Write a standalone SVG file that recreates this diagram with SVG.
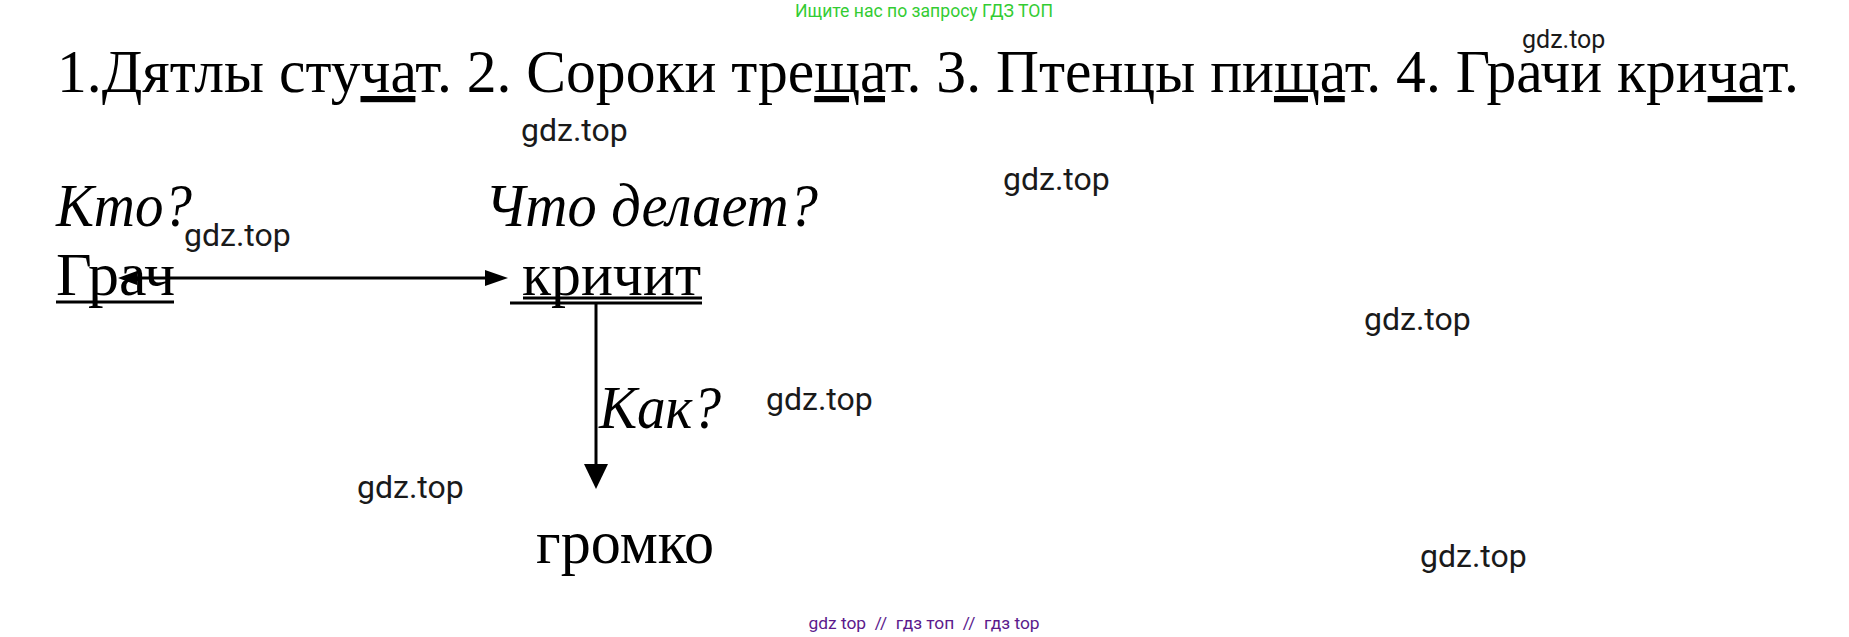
<svg xmlns="http://www.w3.org/2000/svg" width="1849" height="637" viewBox="0 0 1849 637">
<style>
.serif{font-family:"Liberation Serif","Times New Roman",serif;fill:#000}
.main{font-size:62px}
.it{font-style:italic}
.wm{font-family:Roboto,"Liberation Sans",sans-serif;fill:#1a1a1a;font-size:32px}
.wm-s{font-size:25px}
.u{text-decoration:underline}
.ln{stroke:#000;stroke-width:3;fill:none}
</style>
<rect width="1849" height="637" fill="#fff"/>
<text x="924" y="17" text-anchor="middle" font-family="Roboto,'Liberation Sans',sans-serif" font-size="17.6" fill="#33cc33">Ищите нас по запросу ГДЗ ТОП</text>
<g id="sentence">
<text x="57" y="92" class="serif main" textLength="1742" lengthAdjust="spacingAndGlyphs">1.Дятлы сту<tspan class="u">ча</tspan>т. 2. Сороки тре<tspan class="u">ща</tspan>т. 3. Птенцы пи<tspan class="u">ща</tspan>т. 4. Грачи кри<tspan class="u">ча</tspan>т.</text>
</g>
<g id="q-kto"><text x="56" y="226" class="serif main it" textLength="136" lengthAdjust="spacingAndGlyphs">Кто?</text></g>
<g id="q-chto"><text x="485" y="226" class="serif main it" textLength="333" lengthAdjust="spacingAndGlyphs">Что делает?</text></g>
<g id="node-grach">
<text x="56" y="295" class="serif main">Грач</text>
<line x1="56" y1="302" x2="174" y2="302" class="ln"/>
</g>
<g id="node-krichit">
<text x="522" y="295" class="serif main" textLength="179" lengthAdjust="spacingAndGlyphs">кричит</text>
<line x1="523" y1="298" x2="702" y2="298" class="ln"/>
<line x1="510" y1="303" x2="702" y2="303" class="ln"/>
</g>
<g id="q-kak"><text x="599" y="428" class="serif main it" textLength="122" lengthAdjust="spacingAndGlyphs">Как?</text></g>
<g id="node-gromko"><text x="536" y="563" class="serif main" textLength="178" lengthAdjust="spacingAndGlyphs">громко</text></g>
<g id="connectors">
<line x1="125" y1="278" x2="485" y2="278" stroke="#000" stroke-width="3"/>
<path d="M485,270 L508,278 L485,286 Z" fill="#000"/>
<path d="M137,271 L118,278 L137,285 Z" fill="#000"/>
<line x1="596" y1="303" x2="596" y2="465" stroke="#000" stroke-width="3"/>
<path d="M584,464 L608,464 L596,489 Z" fill="#000"/>
</g>
<g id="watermarks">
<text x="1522" y="48" class="wm wm-s">gdz.top</text>
<text x="521" y="141" class="wm">gdz.top</text>
<text x="1003" y="190" class="wm">gdz.top</text>
<text x="184" y="246" class="wm">gdz.top</text>
<text x="1364" y="330" class="wm">gdz.top</text>
<text x="766" y="410" class="wm">gdz.top</text>
<text x="357" y="498" class="wm">gdz.top</text>
<text x="1420" y="567" class="wm">gdz.top</text>
</g>
<text x="924" y="629" text-anchor="middle" font-family="Roboto,'Liberation Sans',sans-serif" font-size="17.4" fill="#5b1a8c" xml:space="preserve">gdz top  //  гдз топ  //  гдз top</text>
</svg>
